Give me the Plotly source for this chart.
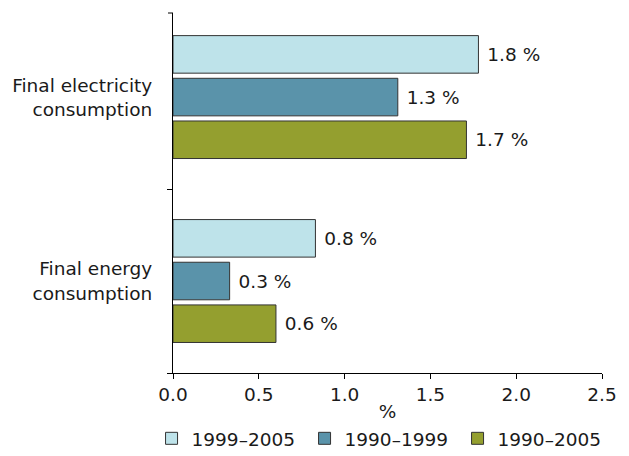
import plotly.graph_objects as go

categories = ["Final energy<br>consumption", "Final electricity<br>consumption"]
series_names = ["1999–2005", "1990–1999", "1990–2005"]
v_1999_2005 = [0.83, 1.78]
v_1990_1999 = [0.33, 1.31]
v_1990_2005 = [0.60, 1.71]
x_ticks = [0.0, 0.5, 1.0, 1.5, 2.0, 2.5]

colors = {"1999–2005": "#bee3ea", "1990–1999": "#5a93aa", "1990–2005": "#949f2f"}
values = {"1999–2005": v_1999_2005, "1990–1999": v_1990_1999, "1990–2005": v_1990_2005}

FONT = "Verdana, DejaVu Sans, sans-serif"
FS = 18.5
fig = go.Figure()
for name in reversed(series_names):
    fig.add_trace(go.Bar(
        y=categories, x=values[name], name=name, orientation="h",
        marker=dict(color=colors[name], line=dict(color="#333333", width=1)),
        texttemplate=" %{x:.1f} %", textposition="outside",
        textfont=dict(size=FS, color="#1a1a1a", family=FONT),
        cliponaxis=False,
    ))

fig.update_layout(
    width=629, height=456,
    margin=dict(l=165, r=35, t=5, b=91),
    paper_bgcolor="white", plot_bgcolor="white",
    barmode="group", bargap=0.304, bargroupgap=0.12,
    font=dict(family=FONT, size=FS, color="#1a1a1a"),
    showlegend=True,
    legend=dict(orientation="h", traceorder="reversed", x=-0.05, xanchor="left",
                y=-0.13, yanchor="top", font=dict(size=FS),
                itemwidth=30, entrywidth=108, entrywidthmode="pixels", tracegroupgap=0),
    xaxis=dict(range=[0, 2.5], tickvals=x_ticks, ticktext=[f"{t:.1f}" for t in x_ticks],
               showgrid=False, zeroline=False, showline=True, linecolor="#000",
               linewidth=1, ticks="outside", ticklen=5, tickcolor="#000",
               title=dict(text="%", standoff=0, font=dict(size=FS))),
    yaxis=dict(range=[-0.5, 1.457], showgrid=False, zeroline=False, showline=True,
               linecolor="#000", linewidth=1, ticks="outside", ticklen=5,
               tickcolor="#000", tickson="boundaries", ticklabelstandoff=16),
)
fig.add_shape(type="line", xref="paper", yref="paper", x0=-5/429, x1=0, y0=1, y1=1,
              line=dict(color="#000", width=1))
fig.write_html("out.html")
